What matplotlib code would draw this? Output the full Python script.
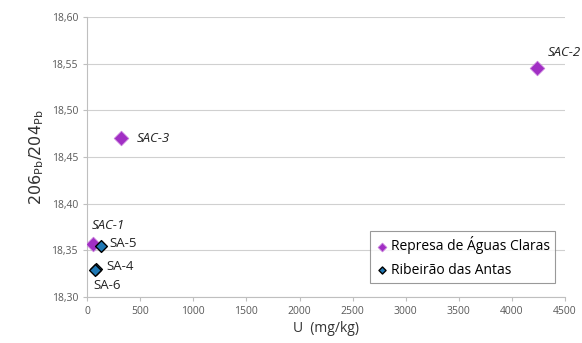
import matplotlib.pyplot as plt

plt.rcParams["font.family"] = ["Open Sans", "DejaVu Sans"]

# Represa de Águas Claras
sac_names = ["SAC-1", "SAC-2", "SAC-3"]
sac_u = [60, 4240, 320]
sac_pb = [18.357, 18.545, 18.470]

# Ribeirão das Antas
sa_names = ["SA-4", "SA-5", "SA-6"]
sa_u = [80, 130, 75]
sa_pb = [18.330, 18.355, 18.329]

x_ticks = list(range(0, 4501, 500))
y_ticks = [18.30, 18.35, 18.40, 18.45, 18.50, 18.55, 18.60]

fig = plt.figure(figsize=(5.82, 3.43), dpi=100)
ax = fig.add_axes([0.1495, 0.134, 0.8215, 0.816])

ax.scatter(sac_u, sac_pb, marker="D", s=55, color="#A12FC4", edgecolors="#C77DDB",
           linewidths=0.6, zorder=3, label="Represa de Águas Claras")
ax.scatter(sa_u, sa_pb, marker="D", s=36, color="#1F78B4", edgecolors="black",
           linewidths=1.0, zorder=3, label="Ribeirão das Antas")

# point labels: pixel offsets from the point
offsets = {
    "SAC-1": (-2, 18, "italic"),
    "SAC-2": (10, 16, "italic"),
    "SAC-3": (16, 0, "italic"),
    "SA-4": (11, 3, "normal"),
    "SA-5": (9, 2, "normal"),
    "SA-6": (-2, -16, "normal"),
}
for name, x, y in zip(sac_names + sa_names, sac_u + sa_u, sac_pb + sa_pb):
    dx, dy, style = offsets[name]
    ax.annotate(name, (x, y), textcoords="offset pixels", xytext=(dx, dy),
                ha="left", va="center", fontsize=9.5, style=style, color="#222222")

ax.set_xlim(0, 4500)
ax.set_ylim(18.30, 18.60)
ax.set_xticks(x_ticks)
ax.set_yticks(y_ticks)
ax.set_yticklabels([f"{v:.2f}".replace(".", ",") for v in y_ticks])
ax.tick_params(labelsize=7.5, colors="#595959", length=3, width=0.8)
ax.tick_params(axis="both", color="#BFBFBF")

ax.grid(axis="y", color="#D0D0D0", linewidth=0.8)
ax.set_axisbelow(True)
for side in ["top", "right"]:
    ax.spines[side].set_visible(False)
for side in ["left", "bottom"]:
    ax.spines[side].set_color("#BFBFBF")

ax.set_xlabel("U  (mg/kg)", fontsize=10, color="#333333", labelpad=3)
ax.set_ylabel(r"$206_{\mathrm{Pb}}/204_{\mathrm{Pb}}$", fontsize=11.5, color="#333333", labelpad=4)

leg = ax.legend(loc="lower right", bbox_to_anchor=(0.985, 0.04), fontsize=10,
                frameon=True, fancybox=False, edgecolor="#808080", handletextpad=0.1,
                handlelength=1.0, markerscale=0.6, borderpad=0.4, labelspacing=0.6,
                borderaxespad=0.2)
leg.get_frame().set_linewidth(0.8)

fig.savefig("out.png", dpi=100)
